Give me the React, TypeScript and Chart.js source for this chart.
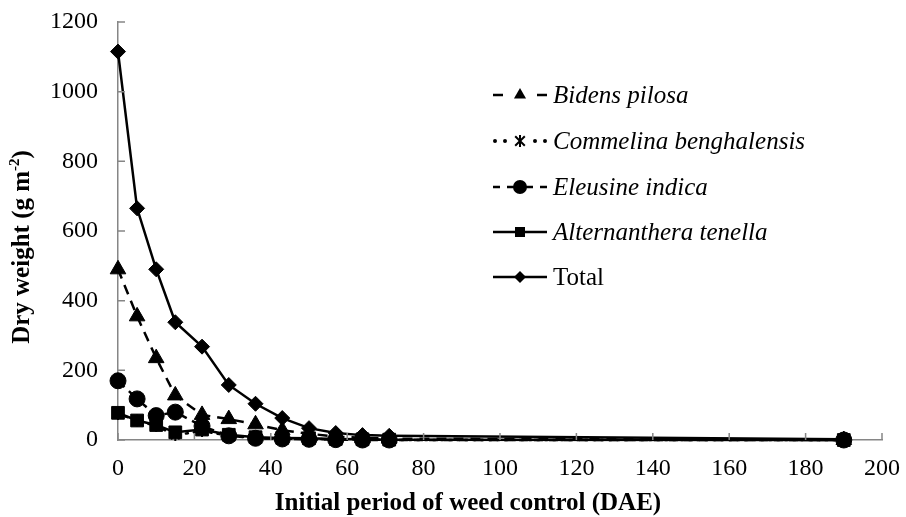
import { useEffect, useRef } from 'react';
import { Chart, registerables } from 'chart.js';
Chart.register(...registerables);

const days = [0, 5, 10, 15, 22, 29, 36, 43, 50, 57, 64, 71, 190];
const bidens = [490, 355, 235, 128, 72, 60, 45, 28, 18, 10, 6, 4, 0];
const commelina = [75, 56, 40, 14, 26, 12, 6, 4, 3, 2, 1, 0, 0];
const eleusine = [170, 118, 70, 80, 40, 12, 5, 3, 2, 1, 0, 0, 0];
const alternanthera = [78, 56, 43, 22, 30, 15, 8, 6, 5, 3, 2, 1, 0];
const total = [1115, 665, 490, 338, 268, 158, 104, 63, 34, 20, 14, 12, 2];

const seriesNames = ['Bidens pilosa', 'Commelina benghalensis', 'Eleusine indica', 'Alternanthera tenella', 'Total'];
const xTitle = 'Initial period of weed control (DAE)';
const yTitleMain = 'Dry weight (g m';
const yTitleSup = '-2';

const FONT = '"Liberation Serif", "Times New Roman", serif';
const AXIS = '#868686';

function drawMarker(ctx: CanvasRenderingContext2D, style: string, x: number, y: number, r: number) {
  ctx.save();
  ctx.fillStyle = '#000';
  ctx.strokeStyle = '#000';
  ctx.setLineDash([]);
  ctx.beginPath();
  if (style === 'triangle') {
    ctx.moveTo(x, y - r);
    ctx.lineTo(x + r * 0.866, y + r * 0.5);
    ctx.lineTo(x - r * 0.866, y + r * 0.5);
    ctx.closePath();
    ctx.fill();
  } else if (style === 'circle') {
    ctx.arc(x, y, r, 0, Math.PI * 2);
    ctx.fill();
  } else if (style === 'rect') {
    ctx.rect(x - r, y - r, 2 * r, 2 * r);
    ctx.fill();
  } else if (style === 'rectRot') {
    ctx.moveTo(x, y - r);
    ctx.lineTo(x + r, y);
    ctx.lineTo(x, y + r);
    ctx.lineTo(x - r, y);
    ctx.closePath();
    ctx.fill();
  } else if (style === 'star') {
    ctx.lineWidth = 2;
    ctx.moveTo(x, y - r); ctx.lineTo(x, y + r);
    ctx.moveTo(x - r * 0.8, y - r * 0.8); ctx.lineTo(x + r * 0.8, y + r * 0.8);
    ctx.moveTo(x + r * 0.8, y - r * 0.8); ctx.lineTo(x - r * 0.8, y + r * 0.8);
    ctx.stroke();
  }
  ctx.restore();
}

const legendRows = [95, 141, 187, 232, 277];

const customPlugin = {
  id: 'custom',
  afterDraw(chart: any) {
    const ctx: CanvasRenderingContext2D = chart.ctx;
    const xs = chart.scales.x;
    const ys = chart.scales.y;
    const ca = chart.chartArea;
    // inward ticks
    ctx.save();
    ctx.strokeStyle = AXIS;
    ctx.lineWidth = 1.5;
    ctx.beginPath();
    xs.ticks.forEach((t: any) => {
      const px = xs.getPixelForValue(t.value);
      ctx.moveTo(px, ca.bottom);
      ctx.lineTo(px, ca.bottom - 7);
    });
    ys.ticks.forEach((t: any) => {
      const py = ys.getPixelForValue(t.value);
      ctx.moveTo(ca.left, py);
      ctx.lineTo(ca.left + 7, py);
    });
    ctx.stroke();
    ctx.restore();

    // legend
    const styles = ['triangle', 'star', 'circle', 'rect', 'rectRot'];
    const sizes = [7, 6, 7, 5, 6];
    ctx.save();
    ctx.strokeStyle = '#000';
    ctx.lineWidth = 2.5;
    legendRows.forEach((ry, i) => {
      ctx.beginPath();
      ctx.setLineDash([]);
      ctx.lineCap = 'butt';
      if (i === 0) {
        ctx.moveTo(493, ry); ctx.lineTo(503, ry);
        ctx.moveTo(537, ry); ctx.lineTo(547, ry);
        ctx.stroke();
      } else if (i === 1) {
        ctx.fillStyle = '#000';
        [495, 505, 535, 545].forEach((dx) => {
          ctx.moveTo(dx + 2, ry);
          ctx.arc(dx, ry, 2, 0, Math.PI * 2);
        });
        ctx.fill();
      } else if (i === 2) {
        [[493, 500], [507, 514], [526, 533], [540, 547]].forEach(([a, b]) => {
          ctx.moveTo(a, ry); ctx.lineTo(b, ry);
        });
        ctx.stroke();
      } else {
        ctx.moveTo(493, ry); ctx.lineTo(547, ry);
        ctx.stroke();
      }
      drawMarker(ctx, styles[i], 520, ry, sizes[i]);
      ctx.fillStyle = '#000';
      ctx.font = (i < 4 ? 'italic ' : '') + '25px ' + FONT;
      ctx.textAlign = 'left';
      ctx.textBaseline = 'middle';
      ctx.fillText(seriesNames[i], 553, ry + 1);
    });
    ctx.restore();

    // x title
    ctx.save();
    ctx.fillStyle = '#000';
    ctx.font = 'bold 25px ' + FONT;
    ctx.textAlign = 'center';
    ctx.textBaseline = 'middle';
    ctx.fillText(xTitle, 468, 504);
    ctx.restore();

    // y title with superscript
    ctx.save();
    ctx.fillStyle = '#000';
    ctx.translate(23, 247);
    ctx.rotate(-Math.PI / 2);
    ctx.textBaseline = 'middle';
    ctx.textAlign = 'left';
    const mainFont = 'bold 25px ' + FONT;
    const supFont = 'bold 15px ' + FONT;
    ctx.font = mainFont;
    const w1 = ctx.measureText(yTitleMain).width;
    const w3 = ctx.measureText(')').width;
    ctx.font = supFont;
    const w2 = ctx.measureText(yTitleSup).width;
    let x0 = -(w1 + w2 + w3) / 2;
    ctx.font = mainFont;
    ctx.fillText(yTitleMain, x0, 0);
    x0 += w1;
    ctx.font = supFont;
    ctx.fillText(yTitleSup, x0, -8);
    x0 += w2;
    ctx.font = mainFont;
    ctx.fillText(')', x0, 0);
    ctx.restore();
  },
};

function mk(label: string, vals: number[], extra: any) {
  return {
    label,
    data: days.map((d, i) => ({ x: d, y: vals[i] })),
    borderColor: '#000',
    backgroundColor: '#000',
    pointBackgroundColor: '#000',
    pointBorderColor: '#000',
    borderWidth: 2.5,
    tension: 0,
    clip: false as any,
    pointBorderWidth: 1,
    ...extra,
  };
}

export default function App() {
  const ref = useRef<HTMLCanvasElement>(null);
  useEffect(() => {
    if (!ref.current) return;
    const chart = new Chart(ref.current, {
      type: 'line',
      data: {
        datasets: [
          mk(seriesNames[0], bidens, { borderDash: [10, 7], pointStyle: 'triangle', pointRadius: 9 }),
          mk(seriesNames[1], commelina, { borderDash: [2, 6], borderCapStyle: 'round', pointStyle: 'star', pointRadius: 6, pointBorderWidth: 2, order: 10 }),
          mk(seriesNames[2], eleusine, { borderDash: [9, 6], pointStyle: 'circle', pointRadius: 8 }),
          mk(seriesNames[3], alternanthera, { pointStyle: 'rect', pointRadius: 9 }),
          mk(seriesNames[4], total, { pointStyle: 'rectRot', pointRadius: 7.5 }),
        ],
      },
      options: {
        animation: false,
        responsive: false,
        layout: { padding: { top: 22, right: 24, left: 0, bottom: 0 } },
        plugins: { legend: { display: false }, tooltip: { enabled: false } },
        scales: {
          x: {
            type: 'linear',
            min: 0,
            max: 200,
            ticks: { stepSize: 20, color: '#000', font: { family: FONT, size: 24 }, padding: 14, maxRotation: 0, callback: (v: any) => String(v) },
            grid: { display: false, drawTicks: false },
            border: { color: AXIS, width: 1.5 },
            afterFit: (s: any) => { s.height = 77; s.paddingLeft = 0; s.paddingRight = 0; },
          },
          y: {
            min: 0,
            max: 1200,
            ticks: { stepSize: 200, color: '#000', font: { family: FONT, size: 24 }, padding: 20, callback: (v: any) => String(v) },
            grid: { display: false, drawTicks: false },
            border: { color: AXIS, width: 1.5 },
            afterFit: (s: any) => { s.width = 118; s.paddingTop = 0; s.paddingBottom = 0; },
          },
        },
      },
      plugins: [customPlugin],
    });
    return () => chart.destroy();
  }, []);
  return (
    <div style={{ position: 'absolute', left: 0, top: 0, width: 906, height: 517, background: '#fff' }}>
      <canvas ref={ref} width={906} height={517} />
    </div>
  );
}
